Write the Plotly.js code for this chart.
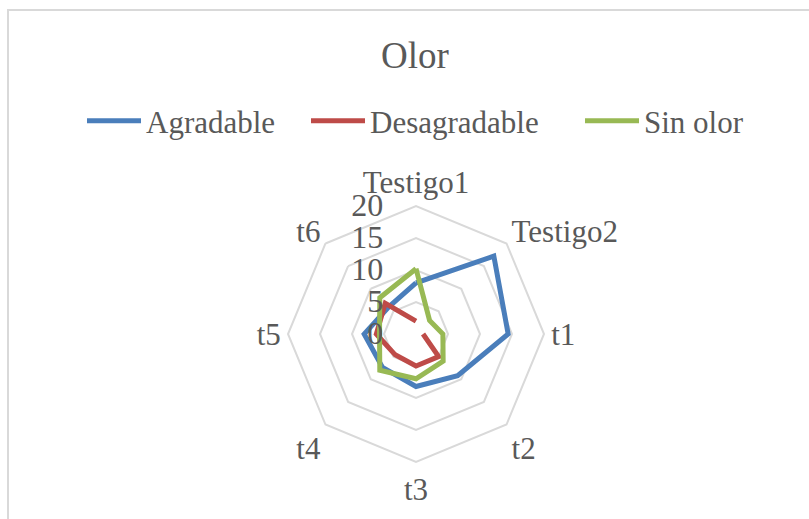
<!DOCTYPE html>
<html>
<head>
<meta charset="utf-8">
<script src="https://cdn.plot.ly/plotly-3.0.1.min.js"></script>
<style>
  html, body { margin: 0; padding: 0; background: #ffffff; overflow: hidden; }
  #wrap { position: relative; width: 809px; height: 519px; overflow: hidden; }
  #frame { position: absolute; left: 7px; top: 9px; width: 900px; height: 700px;
           border: 2px solid #d9d9d9; box-sizing: border-box; pointer-events: none; z-index: 5; }
  #chart { position: absolute; left: 0; top: 0; width: 809px; height: 519px; }
</style>
</head>
<body>
<div id="wrap">
  <div id="chart"></div>
  <div id="frame"></div>
</div>
<script>
const categories = ["Testigo1", "Testigo2", "t1", "t2", "t3", "t4", "t5", "t6"];
const agradable = [8, 17.2, 14.4, 9.2, 8.2, 7.4, 8.1, 6];
const desagradable = [2, null, 1.1, 5, 5, 4.6, 6.2, 6.8];
const sinOlor = [10.2, 3, 4.2, 6, 7, 8, 5.7, 8];
const radialTicks = [0, 5, 10, 15, 20];

function closeLoop(arr) { return arr.concat([arr[0]]); }

const seriesNames = ["Agradable", "Desagradable", "Sin olor"];
const seriesData = [agradable, desagradable, sinOlor];
const seriesColors = ["#4a7ebb", "#be4b48", "#98b954"];
const legendIds = ["legend", "legend2", "legend3"];

const traces = seriesData.map((vals, i) => ({
  type: "scatterpolar",
  mode: "lines",
  name: seriesNames[i],
  legend: legendIds[i],
  r: closeLoop(vals),
  theta: closeLoop(categories),
  connectgaps: false,
  line: { color: seriesColors[i], width: 5, shape: "linear" },
  hoverinfo: "skip"
}));

const textColor = "#595959";
const serif = "Liberation Serif, Times New Roman, serif";

const W = 809, H = 519;
const cx = 416, cy = 334, R = 128;

function legendAt(px) {
  return {
    orientation: "h",
    x: px / W, xanchor: "left",
    y: 1 - 121 / H, yanchor: "middle",
    font: { family: serif, size: 31, color: textColor },
    itemwidth: 54,
    bgcolor: "rgba(0,0,0,0)",
    borderwidth: 0
  };
}

const layout = {
  width: W, height: H,
  margin: { l: 0, r: 0, t: 0, b: 0 },
  paper_bgcolor: "#ffffff",
  showlegend: true,
  font: { family: serif, color: textColor, size: 31 },
  title: {
    text: "Olor",
    font: { family: serif, size: 37, color: textColor },
    x: 415 / W, xanchor: "center", xref: "paper",
    y: 1 - 55 / H, yanchor: "middle", yref: "container"
  },
  legend: legendAt(89 - 7),
  legend2: legendAt(313 - 7),
  legend3: legendAt(587 - 7),
  polar: {
    domain: {
      x: [(cx - R) / W, (cx + R) / W],
      y: [(H - cy - R) / H, (H - cy + R) / H]
    },
    bgcolor: "rgba(0,0,0,0)",
    gridshape: "linear",
    angularaxis: {
      type: "category",
      categoryarray: categories,
      rotation: 90,
      direction: "clockwise",
      showgrid: false,
      showline: true,
      linecolor: "#d9d9d9",
      linewidth: 2,
      ticks: "",
      tickfont: { family: serif, size: 31, color: textColor }
    },
    radialaxis: {
      range: [0, 20],
      tickvals: radialTicks,
      ticktext: radialTicks.map(String),
      angle: 90,
      side: "counterclockwise",
      showline: false,
      showgrid: true,
      gridcolor: "#d9d9d9",
      gridwidth: 2,
      ticks: "outside",
      ticklen: 21,
      tickcolor: "rgba(0,0,0,0)",
      tickangle: 90,
      tickfont: { family: serif, size: 32, color: textColor }
    }
  }
};

Plotly.newPlot("chart", traces, layout, { displayModeBar: false, staticPlot: true });
</script>
</body>
</html>
